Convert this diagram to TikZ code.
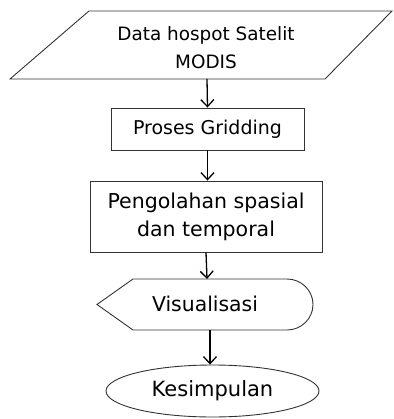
\documentclass[tikz,border=0pt]{standalone}
\usepackage{fontspec}
\setmainfont{DejaVu Sans}
\usetikzlibrary{shapes.geometric,arrows.meta}
\begin{document}
\begin{tikzpicture}[x=1pt,y=-1pt,
  outline/.style={draw=black!80,line width=0.9pt},
  boxnode/.style={outline,rectangle,inner sep=0pt},
  flow/.style={draw=black,line width=1.3pt,-{Straight Barb[length=7pt,width=13pt,line width=1.3pt]}}]
\useasboundingbox (0,0) rectangle (393,419);

% input: parallelogram
\draw[outline] (89,11) -- (392,11) -- (325,79) -- (10,79) -- cycle;
\node[align=center,font=\fontsize{18.4}{28}\selectfont] (data) at (206,48)
  {Data hospot Satelit\\MODIS};
\coordinate (dataS) at (207,79);

% processing steps
\node[boxnode,minimum width=193pt,minimum height=42pt,font=\fontsize{19}{22}\selectfont]
  (grid) at (207.5,129) {Proses Gridding};
\node[boxnode,minimum width=232pt,minimum height=71pt,align=center,
  font=\fontsize{20.5}{28}\selectfont]
  (olah) at (206,216.5) {Pengolahan spasial\\dan temporal};

% display shape
\draw[outline] (97,304.5) -- (133,279) -- (287,279)
  arc[start angle=-90,end angle=90,x radius=26,y radius=25.5] -- (133,330) -- cycle;
\node[font=\fontsize{20.4}{24}\selectfont] (vis) at (205,304) {Visualisasi};
\coordinate (visN) at (207,279);
\coordinate (visS) at (210,330);

% terminator
\node[outline,ellipse,minimum width=213pt,minimum height=52pt,inner sep=0pt,
  font=\fontsize{21}{24}\selectfont] (kes) at (212.5,391) {Kesimpulan};

% connectors
\draw[flow] (dataS) -- (grid.north);
\draw[flow] (grid.south) -- (grid.south |- olah.north);
\draw[flow] (olah.south) -- (visN);
\draw[flow] (visS) -- (visS |- kes.north);
\end{tikzpicture}
\end{document}
